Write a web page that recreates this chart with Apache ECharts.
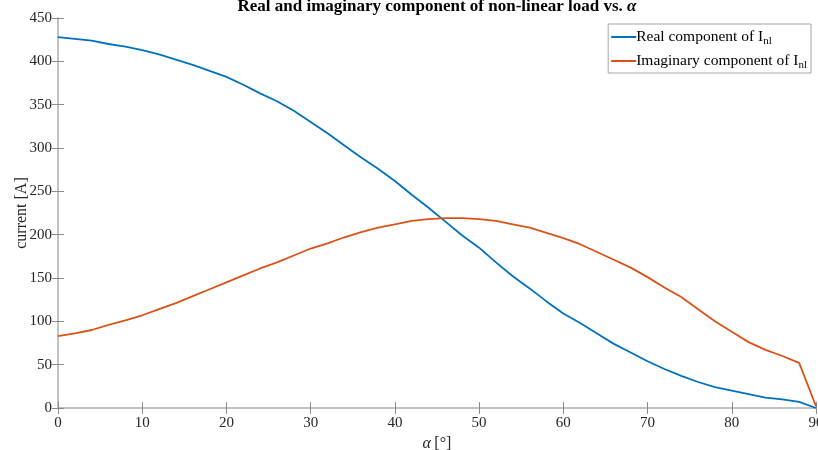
<!DOCTYPE html>
<html>
<head>
<meta charset="utf-8">
<script src="https://cdn.jsdelivr.net/npm/echarts@6/dist/echarts.min.js"></script>
<style>
  html, body { margin: 0; padding: 0; background: #fff; }
  #chart { width: 818px; height: 450px; }
</style>
</head>
<body>
<div id="chart"></div>
<script>
// firing angle alpha in degrees
const alpha = [0, 2, 4, 6, 8, 10, 12, 14, 16, 18, 20, 22, 24, 26, 28, 30, 32, 34, 36, 38, 40,
  42, 44, 46, 48, 50, 52, 54, 56, 58, 60, 62, 64, 66, 68, 70, 72, 74, 76, 78, 80, 82, 84, 86, 88, 90];

// real component of the non-linear load current [A]
const realPart = [428, 426, 424, 420, 417, 413, 408, 402, 396, 389, 382, 373, 363, 354, 343, 330,
  317, 303, 289, 276, 262, 246, 231, 215, 199, 185, 168, 152, 138, 123, 109, 98, 86, 74, 64, 54,
  45, 37, 30, 24, 20, 16, 12, 10, 7, 0];

// imaginary component of the non-linear load current [A]
const imagPart = [83, 86, 90, 96, 101, 107, 114, 121, 129, 137, 145, 153, 161, 168, 176, 184,
  190, 197, 203, 208, 212, 216, 218, 219, 219, 218, 216, 212, 208, 202, 196, 189, 180, 171, 162,
  151, 139, 128, 114, 100, 88, 76, 67, 60, 52, 2];

const xTicks = { min: 0, max: 90, interval: 10 };
const yTicks = { min: 0, max: 450, interval: 50 };

const seriesNames = ['Real component of I', 'Imaginary component of I'];

const FONT = 'Liberation Serif';
const AXIS_LINE = '#bdbdbd';
const TICK = '#8c8c8c';
const TEXT = '#262626';

const chart = echarts.init(document.getElementById('chart'), null, { renderer: 'canvas' });

const baseAxis = {
  axisLine: { show: true, lineStyle: { color: AXIS_LINE, width: 1.5 } },
  axisTick: { show: true, inside: true, length: 6, lineStyle: { color: TICK, width: 1 } },
  splitLine: { show: false },
  axisLabel: { color: TEXT, fontFamily: FONT, fontSize: 15 }
};

chart.setOption({
  animation: false,
  backgroundColor: '#fff',
  title: {
    text: '{b|Real and imaginary component of non-linear load vs. }{i|α}',
    left: 437,
    textAlign: 'center',
    top: 0,
    padding: 0,
    textStyle: {
      rich: {
        b: { fontFamily: FONT, fontSize: 17, fontWeight: 'bold', color: '#000', lineHeight: 14 },
        i: { fontFamily: FONT, fontSize: 17, fontStyle: 'italic', color: '#000', lineHeight: 14 }
      }
    }
  },
  grid: { left: 58, right: 2, top: 18, bottom: 42, containLabel: false, outerBoundsMode: 'none' },
  legend: {
    orient: 'vertical',
    right: 7,
    top: 24,
    padding: [3, 4, 2, 3],
    itemGap: 4,
    itemWidth: 25,
    itemHeight: 2,
    icon: 'rect',
    backgroundColor: '#fff',
    borderColor: '#a6a6a6',
    borderWidth: 1,
    borderRadius: 0,
    data: seriesNames,
    formatter: name => '{m|' + name + '}{s|nl}',
    textStyle: {
      color: '#000',
      padding: [0, 0, 0, -5],
      rich: {
        m: { fontFamily: FONT, fontSize: 15.5, color: '#000', lineHeight: 20 },
        s: { fontFamily: FONT, fontSize: 11, color: '#000', padding: [9, 0, 0, 0], lineHeight: 20 }
      }
    }
  },
  xAxis: [
    Object.assign({}, baseAxis, {
      type: 'value',
      min: xTicks.min, max: xTicks.max, interval: xTicks.interval,
      position: 'bottom',
      axisLabel: Object.assign({}, baseAxis.axisLabel, { margin: 8 }),
      name: '{i|α} {r|[°]}',
      nameLocation: 'middle',
      nameGap: 27,
      nameTextStyle: {
        rich: {
          i: { fontFamily: FONT, fontSize: 16, fontStyle: 'italic', color: TEXT },
          r: { fontFamily: FONT, fontSize: 16, color: TEXT }
        }
      }
    }),
    Object.assign({}, baseAxis, {
      type: 'value',
      min: xTicks.min, max: xTicks.max, interval: xTicks.interval,
      position: 'top',
      axisLabel: { show: false }
    })
  ],
  yAxis: [
    Object.assign({}, baseAxis, {
      type: 'value',
      min: yTicks.min, max: yTicks.max, interval: yTicks.interval,
      position: 'left',
      axisLabel: Object.assign({}, baseAxis.axisLabel, { margin: 6 }),
      name: 'current [A]',
      nameLocation: 'middle',
      nameGap: 28,
      nameMoveOverlap: false,
      nameTextStyle: { fontFamily: FONT, fontSize: 16, color: TEXT }
    }),
    Object.assign({}, baseAxis, {
      type: 'value',
      min: yTicks.min, max: yTicks.max, interval: yTicks.interval,
      position: 'right',
      axisLabel: { show: false }
    })
  ],
  series: [
    {
      name: seriesNames[0],
      type: 'line',
      data: alpha.map((a, i) => [a, realPart[i]]),
      showSymbol: false,
      symbol: 'none',
      lineStyle: { color: '#0072BD', width: 1.8 },
      itemStyle: { color: '#0072BD' }
    },
    {
      name: seriesNames[1],
      type: 'line',
      data: alpha.map((a, i) => [a, imagPart[i]]),
      showSymbol: false,
      symbol: 'none',
      lineStyle: { color: '#D95319', width: 1.8 },
      itemStyle: { color: '#D95319' }
    }
  ]
});
</script>
</body>
</html>
